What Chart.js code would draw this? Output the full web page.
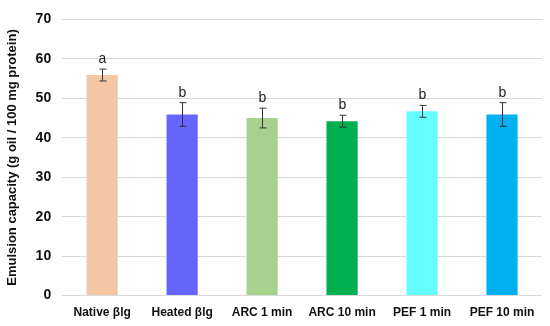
<!DOCTYPE html>
<html>
<head>
<meta charset="utf-8">
<script src="https://cdn.jsdelivr.net/npm/chart.js@4/dist/chart.umd.min.js"></script>
<style>
  html, body { margin: 0; padding: 0; background: #fff; }
  #wrap { width: 550px; height: 326px; }
</style>
</head>
<body>
<div id="wrap"><canvas id="ecChart"></canvas></div>
<script>
// data
const categories = ["Native βlg", "Heated βlg", "ARC 1 min", "ARC 10 min", "PEF 1 min", "PEF 10 min"];
const means = [55.9, 45.9, 45.0, 44.2, 46.7, 45.9];
const errors = [1.5, 3.0, 2.5, 1.5, 1.5, 3.0];
const letters = ["a", "b", "b", "b", "b", "b"];
const barColors = ["#F4C7A4", "#6666FF", "#A9D18E", "#00B050", "#66FFFF", "#00B0F0"];
const yTicks = [0, 10, 20, 30, 40, 50, 60, 70];

// error bars + significance letters
const errorBarPlugin = {
  id: "errorBars",
  afterDatasetsDraw(chart) {
    const ctx = chart.ctx;
    const meta = chart.getDatasetMeta(0);
    const y = chart.scales.y;
    ctx.save();
    ctx.strokeStyle = "#333";
    ctx.lineWidth = 1;
    meta.data.forEach((bar, i) => {
      const x = Math.round(bar.x) + 0.5;
      const top = y.getPixelForValue(means[i] + errors[i]);
      const bot = y.getPixelForValue(means[i] - errors[i]);
      ctx.beginPath();
      ctx.moveTo(x, top); ctx.lineTo(x, bot);
      ctx.moveTo(x - 3, top); ctx.lineTo(x + 4, top);
      ctx.moveTo(x - 3, bot); ctx.lineTo(x + 4, bot);
      ctx.stroke();
      ctx.fillStyle = "#222";
      ctx.font = "14px 'Liberation Sans', Arial, sans-serif";
      ctx.textAlign = "center";
      ctx.textBaseline = "bottom";
      ctx.fillText(letters[i], x, top - 3);
    });
    ctx.restore();
  }
};

document.addEventListener("DOMContentLoaded", function () {
  const ctx = document.getElementById("ecChart").getContext("2d");
  new Chart(ctx, {
    type: "bar",
    data: {
      labels: categories,
      datasets: [{
        data: means,
        backgroundColor: barColors,
        borderWidth: 0,
        barPercentage: 0.39,
        categoryPercentage: 1
      }]
    },
    options: {
      responsive: true,
      maintainAspectRatio: false,
      animation: false,
      layout: { padding: { top: 3, right: 8, left: 5, bottom: 4 } },
      scales: {
        x: {
          grid: { display: false },
          border: { display: false },
          ticks: {
            color: "#111",
            font: { family: "'Liberation Sans', Arial, sans-serif", size: 12, weight: "bold" },
            maxRotation: 0,
            padding: 2
          }
        },
        y: {
          min: 0,
          max: 70,
          afterBuildTicks(axis) { axis.ticks = yTicks.map(v => ({ value: v })); },
          grid: { color: "#D9D9D9", drawTicks: false },
          border: { display: false },
          ticks: {
            color: "#111",
            padding: 11,
            font: { family: "'Liberation Sans', Arial, sans-serif", size: 14, weight: "bold" }
          },
          title: {
            display: true,
            text: "Emulsion capacity (g oil / 100 mg protein)",
            color: "#111",
            padding: { top: 0, bottom: 4 },
            font: { family: "'Liberation Sans', Arial, sans-serif", size: 13, weight: "bold" }
          }
        }
      },
      plugins: {
        legend: { display: false },
        tooltip: { enabled: false }
      }
    },
    plugins: [errorBarPlugin]
  });
});
</script>
</body>
</html>
